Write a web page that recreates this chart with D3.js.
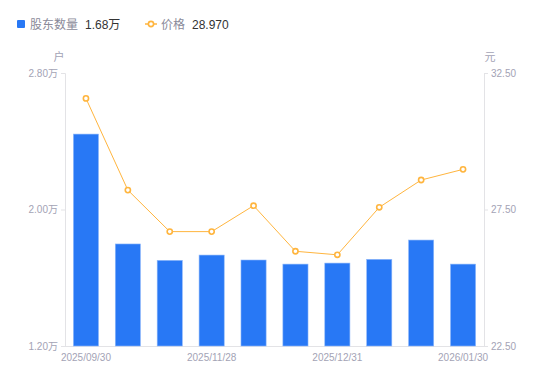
<!DOCTYPE html>
<html>
<head>
<meta charset="utf-8">
<script src="https://cdn.jsdelivr.net/npm/d3@7"></script>
<style>
  body { margin: 0; background: #fff; }
  svg { font-family: "Noto Sans CJK SC", "Noto Sans", sans-serif; }
</style>
</head>
<body>
<svg id="chart" width="550" height="381"></svg>
<script>
// data
var dates = ["2025/09/30", "2025/10/20", "2025/10/31", "2025/11/28", "2025/12/10",
             "2025/12/19", "2025/12/31", "2026/01/09", "2026/01/20", "2026/01/30"];
var holders = [2.442, 1.798, 1.702, 1.733, 1.704, 1.680, 1.686, 1.708, 1.821, 1.68]; // 万户
var prices = [31.57, 28.21, 26.69, 26.69, 27.64, 25.97, 25.84, 27.58, 28.58, 28.97];  // 元
var shownDates = ["2025/09/30", "2025/11/28", "2025/12/31", "2026/01/30"];
var leftTicks = [1.2, 2.0, 2.8];
var rightTicks = [22.5, 27.5, 32.5];

var margin = {left: 65, right: 66, top: 73, bottom: 35};
var width = 550, height = 381;

var svg = d3.select("#chart");

var x = d3.scaleBand()
          .domain(dates)
          .range([margin.left, width - margin.right])
          .paddingInner(0.4)
          .paddingOuter(0.2);

var yLeft = d3.scaleLinear()
              .domain([1.2, 2.8])
              .range([height - margin.bottom, margin.top]);

var yRight = d3.scaleLinear()
               .domain([22.5, 32.5])
               .range([height - margin.bottom, margin.top]);

var axisColor = "#e3e3e6";
var labelColor = "#a3a3b5";

////////// axes //////////
var gLeft = svg.append("g")
               .attr("transform", "translate(" + margin.left + ",0)")
               .call(d3.axisLeft(yLeft)
                       .tickValues(leftTicks)
                       .tickSize(4)
                       .tickPadding(3)
                       .tickFormat(function(d){ return d.toFixed(2) + "万"; }));

var gRight = svg.append("g")
                .attr("transform", "translate(" + (width - margin.right) + ",0)")
                .call(d3.axisRight(yRight)
                        .tickValues(rightTicks)
                        .tickSize(4)
                        .tickPadding(3)
                        .tickFormat(function(d){ return d.toFixed(2); }));

var gBottom = svg.append("g")
                 .attr("transform", "translate(0," + (height - margin.bottom) + ")")
                 .call(d3.axisBottom(x)
                         .tickValues(shownDates)
                         .tickSize(0)
                         .tickPadding(8));

[gLeft, gRight, gBottom].forEach(function(g){
  g.select(".domain").attr("stroke", axisColor).attr("stroke-width", 1);
  g.selectAll(".tick line").attr("stroke", axisColor);
  g.selectAll(".tick text")
   .attr("fill", labelColor)
   .style("font-size", "10px")
   .style("font-family", "'Liberation Sans', 'Noto Sans CJK SC', sans-serif");
});
gBottom.select(".domain").attr("d", "M" + margin.left + ",0.5H" + (width - margin.right));

// units
svg.append("text")
   .attr("x", 59).attr("y", 61)
   .attr("text-anchor", "middle")
   .attr("fill", labelColor)
   .style("font-size", "11px")
   .text("户");
svg.append("text")
   .attr("x", 490).attr("y", 61)
   .attr("text-anchor", "middle")
   .attr("fill", labelColor)
   .style("font-size", "11px")
   .text("元");

////////// bars //////////
svg.append("g")
   .selectAll("rect")
   .data(holders)
   .enter()
   .append("rect")
   .attr("x", function(d, i){ return x(dates[i]); })
   .attr("width", x.bandwidth())
   .attr("y", function(d){ return yLeft(d); })
   .attr("height", function(d){ return yLeft(1.2) - yLeft(d); })
   .attr("fill", "#2878f5")
   .attr("stroke", "#8fb8fa")
   .attr("stroke-width", 0.6);

////////// price line //////////
var line = d3.line()
             .x(function(d, i){ return x(dates[i]) + x.bandwidth() / 2; })
             .y(function(d){ return yRight(d); });

svg.append("path")
   .datum(prices)
   .attr("d", line)
   .attr("fill", "none")
   .attr("stroke", "#ffb53e")
   .attr("stroke-width", 1);

svg.append("g")
   .selectAll("circle")
   .data(prices)
   .enter()
   .append("circle")
   .attr("cx", function(d, i){ return x(dates[i]) + x.bandwidth() / 2; })
   .attr("cy", function(d){ return yRight(d); })
   .attr("r", 2.6)
   .attr("fill", "#fff")
   .attr("stroke", "#ffb53e")
   .attr("stroke-width", 1.6);

////////// legend //////////
var legend = svg.append("g");
legend.append("rect")
      .attr("x", 17).attr("y", 20)
      .attr("width", 8).attr("height", 8)
      .attr("rx", 1)
      .attr("fill", "#2878f5");
legend.append("text")
      .attr("x", 30).attr("y", 29)
      .attr("fill", "#8a8a99")
      .style("font-size", "12px")
      .text("股东数量");
legend.append("text")
      .attr("x", 85).attr("y", 29)
      .attr("fill", "#333")
      .style("font-size", "12px")
      .style("font-family", "'Liberation Sans', 'Noto Sans CJK SC', sans-serif")
      .text(d3.format(".2f")(holders[holders.length - 1]) + "万");

legend.append("line")
      .attr("x1", 145).attr("x2", 157)
      .attr("y1", 24).attr("y2", 24)
      .attr("stroke", "#ffb53e").attr("stroke-width", 1.5);
legend.append("circle")
      .attr("cx", 151).attr("cy", 24).attr("r", 2.6)
      .attr("fill", "#fff")
      .attr("stroke", "#ffb53e").attr("stroke-width", 1.6);
legend.append("text")
      .attr("x", 161).attr("y", 29)
      .attr("fill", "#8a8a99")
      .style("font-size", "12px")
      .text("价格");
legend.append("text")
      .attr("x", 192).attr("y", 29)
      .attr("fill", "#333")
      .style("font-size", "12px")
      .style("font-family", "'Liberation Sans', 'Noto Sans CJK SC', sans-serif")
      .text(d3.format(".3f")(prices[prices.length - 1]));
</script>
</body>
</html>
